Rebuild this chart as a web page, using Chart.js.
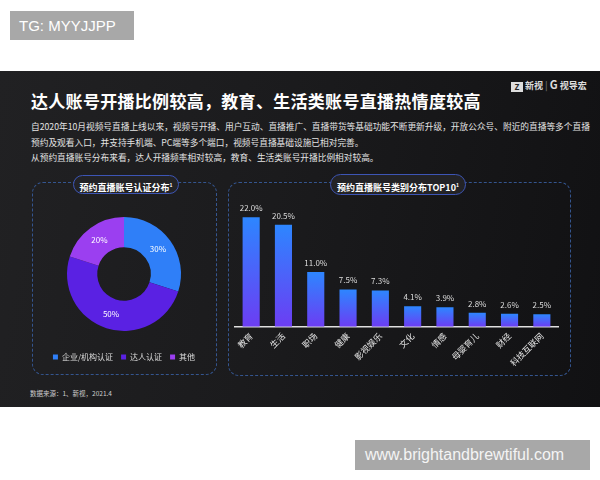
<!DOCTYPE html>
<html>
<head>
<meta charset="utf-8">
<script src="https://cdn.jsdelivr.net/npm/chart.js@4.4.1/dist/chart.umd.min.js"></script>
<style>
  body { margin:0; width:600px; height:480px; background:#fff; position:relative; overflow:hidden;
         font-family:"Noto Sans CJK SC","Noto Sans",sans-serif; }
  .tag { position:absolute; background:#a8a8a8; color:#fff; font-family:"Liberation Sans",Arial,sans-serif; }
  #panel { position:absolute; left:0; top:71px; width:600px; height:336px;
           background:linear-gradient(100deg,#212123 0%,#1b1b1d 45%,#111113 100%); }
  .abs { position:absolute; }
  .box { position:absolute; border:1px dashed #34558f; border-radius:11px; }
  .pill { position:absolute; border:1.5px solid #3d55b5; border-radius:12px; background:#232326;
          color:#fff; font-weight:bold; font-size:9px; text-align:center; line-height:17px; }
  .pill sup { font-size:5px; }
  p { margin:0; }
</style>
</head>
<body>
<div class="tag" style="left:10px;top:11px;width:124px;height:29px;font-size:15px;line-height:29px;text-indent:9px;">TG: MYYJJPP</div>
<div class="tag" style="left:355px;top:440px;width:235px;height:30px;font-size:16px;line-height:30px;text-indent:10px;color:#f4f4f4;">www.brightandbrewtiful.com</div>

<div id="panel">
  <div class="abs" style="left:511px;top:5px;color:#ddd;font-size:9px;font-weight:bold;white-space:nowrap;">
    <span style="display:inline-block;background:#ddd;color:#222;width:12px;height:10px;line-height:10px;text-align:center;font-size:8px;vertical-align:middle;">Z</span>
    新视 <span style="color:#666;">|</span> <span style="font-size:11px;">G</span> 视导宏</div>
  <div class="abs" style="left:31px;top:17px;color:#fff;font-size:17px;font-weight:bold;letter-spacing:0.3px;">达人账号开播比例较高，教育、生活类账号直播热情度较高</div>
  <div class="abs" style="left:31px;top:48px;width:565px;color:#e4e4e4;font-size:8.7px;line-height:15.5px;white-space:nowrap;">
    <p>自2020年10月视频号直播上线以来，视频号开播、用户互动、直播推广、直播带货等基础功能不断更新升级，开放公众号、附近的直播等多个直播</p>
    <p>预约及观看入口，并支持手机端、PC端等多个端口，视频号直播基础设施已相对完善。</p>
    <p>从预约直播账号分布来看，达人开播频率相对较高，教育、生活类账号开播比例相对较高。</p>
  </div>

  <div class="box" style="left:32px;top:111px;width:183px;height:191px;"></div>
  <div class="box" style="left:228px;top:111px;width:341px;height:192px;"></div>
  <div class="pill" style="left:73px;top:104px;width:104px;height:17px;">预约直播账号认证分布<sup>1</sup></div>
  <div class="pill" style="left:330px;top:103px;width:134px;height:19px;line-height:19px;">预约直播账号类别分布TOP10<sup>1</sup></div>

  <div class="abs" style="left:33px;top:132px;width:182px;height:168px;"><canvas id="pie"></canvas></div>
  <div class="abs" style="left:228px;top:120px;width:340px;height:181px;"><canvas id="bar"></canvas></div>

  <div class="abs" style="left:30px;top:317px;color:#ccc;font-size:6.5px;">数据来源：1、新视，2021.4</div>
</div>

<script>
// 认证分布
var authLabels = ['企业/机构认证', '达人认证', '其他'];
var authValues = [30, 50, 20];
var authColors = ['#2f7ff8', '#5a21e3', '#9b3ff0'];

// 类别分布 TOP10
var catLabels = ['教育', '生活', '职场', '健康', '影视娱乐', '文化', '情感', '母婴育儿', '财经', '科技互联网'];
var catValues = [22.0, 20.5, 11.0, 7.5, 7.3, 4.1, 3.9, 2.8, 2.6, 2.5];

var cjk = '"Noto Sans CJK SC", sans-serif';

var sliceLabels = {
  id: 'sliceLabels',
  afterDatasetsDraw: function(chart){
    var ctx = chart.ctx;
    var meta = chart.getDatasetMeta(0);
    ctx.save();
    ctx.font = '8px ' + cjk;
    ctx.fillStyle = '#fff';
    ctx.textAlign = 'center';
    ctx.textBaseline = 'middle';
    meta.data.forEach(function(arc, i){
      var p = arc.getCenterPoint();
      ctx.fillText(authValues[i] + '%', p.x, p.y);
    });
    ctx.restore();
  }
};

new Chart(document.getElementById('pie'), {
  type: 'doughnut',
  data: { labels: authLabels, datasets: [{ data: authValues, backgroundColor: authColors, borderWidth: 0 }] },
  options: {
    responsive: true, maintainAspectRatio: false, animation: false,
    radius: 57, cutout: '47%',
    layout: { padding: 0 },
    plugins: {
      tooltip: { enabled: false },
      legend: { position: 'bottom',
        labels: { color: '#ddd', boxWidth: 5, boxHeight: 5, padding: 8, font: { size: 8, family: cjk } } }
    }
  },
  plugins: [sliceLabels]
});

var barLabels = {
  id: 'barLabels',
  afterDatasetsDraw: function(chart){
    var ctx = chart.ctx;
    var meta = chart.getDatasetMeta(0);
    ctx.save();
    ctx.font = '8px ' + cjk;
    ctx.fillStyle = '#ddd';
    ctx.textAlign = 'center';
    ctx.textBaseline = 'bottom';
    meta.data.forEach(function(bar, i){
      ctx.fillText(catValues[i].toFixed(1) + '%', bar.x, bar.y - 5);
    });
    ctx.restore();
  }
};

// each bar gets its own blue->purple gradient
function barGradient(context){
  var chart = context.chart;
  var area = chart.chartArea;
  if (!area || context.type !== 'data') return '#3a6cf5';
  var y = chart.scales.y;
  var top = y.getPixelForValue(context.raw);
  var g = chart.ctx.createLinearGradient(0, top, 0, y.getPixelForValue(0));
  g.addColorStop(0, '#2d86ff');
  g.addColorStop(1, '#6c3df3');
  return g;
}

new Chart(document.getElementById('bar'), {
  type: 'bar',
  data: { labels: catLabels, datasets: [{ data: catValues, backgroundColor: barGradient,
          categoryPercentage: 1, barPercentage: 0.53 }] },
  options: {
    responsive: true, maintainAspectRatio: false, animation: false,
    layout: { padding: { left: 7, right: 10, top: 0, bottom: 0 } },
    plugins: { legend: { display: false }, tooltip: { enabled: false } },
    scales: {
      x: { grid: { display: false, drawTicks: false },
           border: { color: '#e0e0e0', width: 1.5 },
           ticks: { color: '#e6e6e6', minRotation: 45, maxRotation: 45, padding: 4, font: { size: 8.5, family: cjk } } },
      y: { display: false, min: 0, max: 27.3 }
    }
  },
  plugins: [barLabels]
});
</script>
</body>
</html>
